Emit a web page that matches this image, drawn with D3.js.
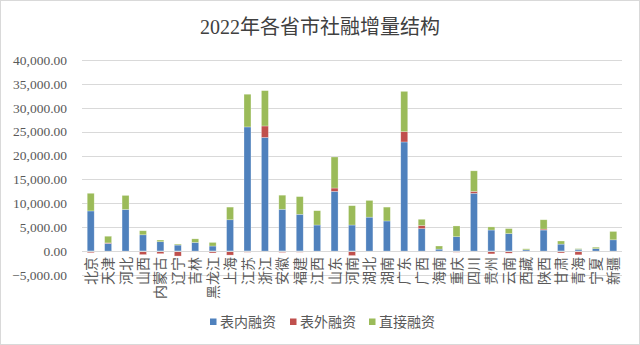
<!DOCTYPE html>
<html><head><meta charset="utf-8">
<script src="https://cdn.jsdelivr.net/npm/d3@7"></script>
<style>
html,body{margin:0;padding:0;background:#fff;}
svg{display:block;}
</style></head>
<body>
<svg id="chart" width="640" height="345"></svg>
<script>
const title = "2022年各省市社融增量结构";
const provinces = ["北京","天津","河北","山西","内蒙古","辽宁","吉林","黑龙江","上海","江苏","浙江","安徽","福建","江西","山东","河南","湖北","湖南","广东","广西","海南","重庆","四川","贵州","云南","西藏","陕西","甘肃","青海","宁夏","新疆"];
const seriesNames = ["表内融资","表外融资","直接融资"];
const onBalance = [8400,1600,8700,3400,1950,1250,1800,1050,6550,26000,23800,8750,7700,5450,12500,5450,7100,6300,22850,4700,400,3000,12100,4400,3650,250,4400,1450,350,500,2350];
const offBalance = [-350,100,0,-750,-550,-1050,0,-400,-850,-250,2400,-300,-250,0,700,-950,0,0,2150,650,0,-250,400,-600,-450,0,200,-400,-800,0,0];
const direct = [3700,1400,2950,850,350,200,750,750,2650,6850,7400,2950,3700,3000,6500,4050,3500,2900,8450,1300,650,2250,4300,650,1050,220,1950,650,150,300,1750];
const yTicks = [-5000,0,5000,10000,15000,20000,25000,30000,35000,40000];
const colors = ["#4F81BD","#C0504D","#9BBB59"];

const svg = d3.select("#chart");
const W = 640, H = 345;
const margin = {left: 82, right: 18, top: 60, bottom: 70};

svg.append("rect").attr("x",0.5).attr("y",0.5).attr("width",W-1).attr("height",H-1)
  .attr("fill","#fff").attr("stroke","#d9d9d9");

svg.append("text").attr("x",320).attr("y",34).attr("text-anchor","middle")
  .attr("font-family","'Liberation Serif','Noto Sans CJK SC',serif").attr("font-size",20)
  .attr("fill","#404040").text(title);

const x = d3.scaleBand().domain(provinces).range([82,622]).paddingInner(0.6).paddingOuter(0.3);
const y = d3.scaleLinear().domain([-5000,40000]).range([274.9,60.1]);

// gridlines
svg.append("g").selectAll("line").data(yTicks).join("line")
  .attr("x1",82).attr("x2",622)
  .attr("y1",d=>Math.round(y(d))+0.5).attr("y2",d=>Math.round(y(d))+0.5)
  .attr("stroke","#d9d9d9").attr("stroke-width",1);

// y labels
svg.append("g").selectAll("text").data(yTicks).join("text")
  .attr("x",67).attr("y",d=>y(d)).attr("dy","0.35em").attr("text-anchor","end")
  .attr("font-family","'Liberation Serif',serif").attr("font-size",13.5).attr("fill","#595959")
  .text(d=>d3.format(",.2f")(d));

const rows = provinces.map((p,i)=>({p, a: onBalance[i], b: offBalance[i], c: direct[i]}));
const stack = d3.stack().keys(["a","b","c"]).offset(d3.stackOffsetDiverging);
const layers = stack(rows);

svg.append("g").selectAll("g").data(layers).join("g")
  .attr("fill",(d,i)=>colors[i])
  .selectAll("rect").data(d=>d).join("rect")
  .attr("x",d=>x(d.data.p))
  .attr("width",x.bandwidth())
  .attr("y",d=>y(Math.max(d[0],d[1])))
  .attr("height",d=>Math.abs(y(d[0])-y(d[1])))
  .attr("stroke","rgba(255,255,255,0.45)").attr("stroke-width",0.6);

// zero axis line
svg.append("line").attr("x1",82).attr("x2",622)
  .attr("y1",Math.round(y(0))+0.5).attr("y2",Math.round(y(0))+0.5)
  .attr("stroke","#d9d9d9");

// x labels rotated
svg.append("g").selectAll("text").data(provinces).join("text")
  .attr("transform",d=>`translate(${x(d)+x.bandwidth()/2},257) rotate(-90)`)
  .attr("text-anchor","end").attr("dy","0.36em")
  .attr("font-family","'Noto Sans CJK SC',sans-serif").attr("font-size",14).attr("fill","#595959")
  .text(d=>d);

// legend
const legX = [210, 290, 369];
const leg = svg.append("g").selectAll("g").data(seriesNames).join("g")
  .attr("transform",(d,i)=>`translate(${legX[i]},322)`);
leg.append("rect").attr("x",0).attr("y",-3.5).attr("width",6.5).attr("height",6.5).attr("fill",(d,i)=>colors[i]);
leg.append("text").attr("x",10).attr("dy","0.36em")
  .attr("font-family","'Noto Sans CJK SC',sans-serif").attr("font-size",14).attr("fill","#595959")
  .text(d=>d);
</script>
</body></html>
